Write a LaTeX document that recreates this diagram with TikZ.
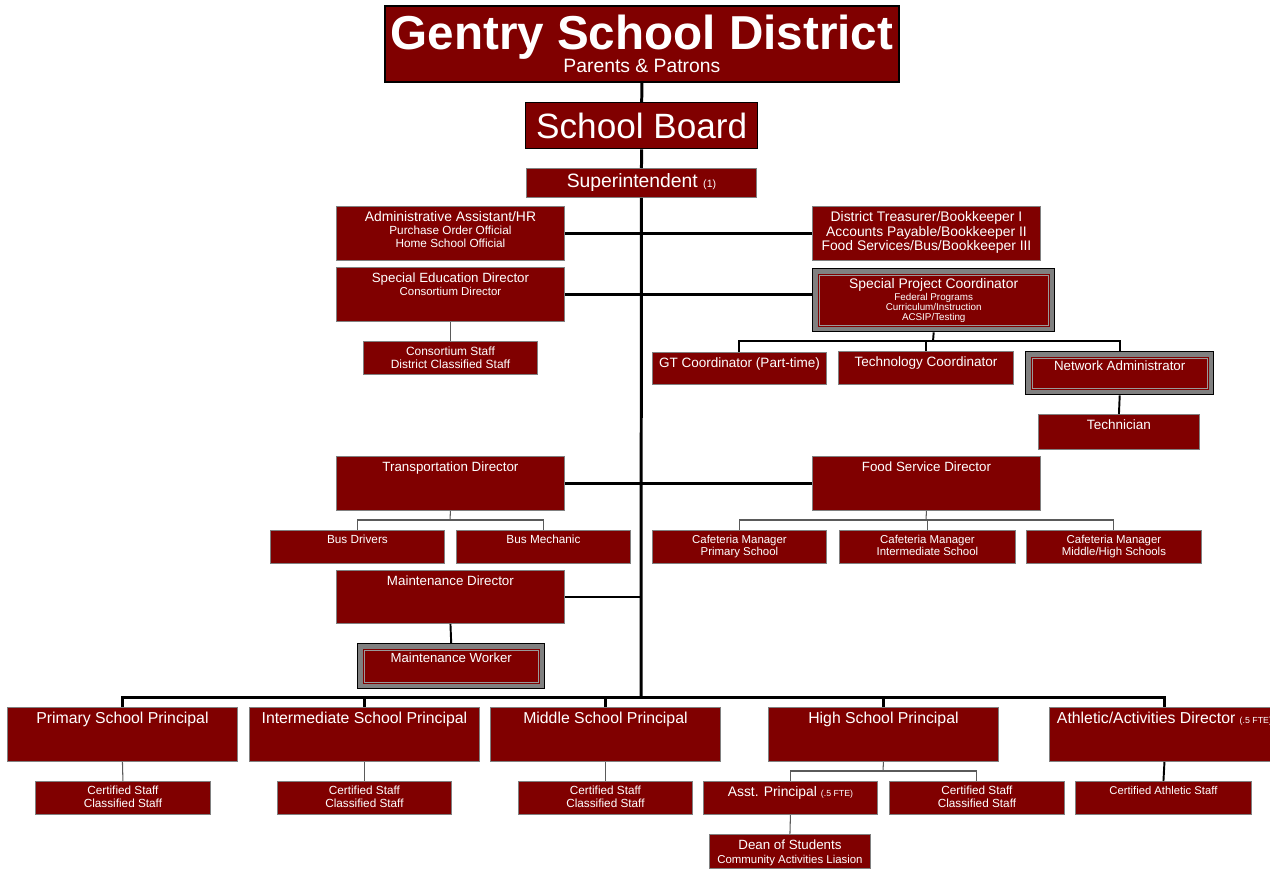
\documentclass[tikz,border=0pt]{standalone}
\usepackage{fontspec}
\setmainfont{Liberation Sans}
\usepackage{xcolor}
\usepackage{tikz}
\usetikzlibrary{positioning,calc}
\definecolor{granate}{HTML}{800000}
\definecolor{gris}{HTML}{808080}
\definecolor{linea}{HTML}{5A5A5A}
\newcommand{\fsz}[2]{\fontsize{#1}{#2}\selectfont}

\begin{document}
\begin{tikzpicture}[x=0.02cm, y=-0.02cm, font=\fsz{7.6}{8},
  box/.style={draw=gris, line width=0.5pt, fill=granate, anchor=north west, inner sep=0pt, text=white},
  dbl/.style={draw=black, line width=0.8pt, fill=gris,
    path picture={
      \fill[granate] ([shift={(2.8pt,2.8pt)}]path picture bounding box.south west)
        rectangle ([shift={(-2.8pt,-2.8pt)}]path picture bounding box.north east);
      \draw[gris!80, line width=0.4pt] ([shift={(3.6pt,3.6pt)}]path picture bounding box.south west)
        rectangle ([shift={(-3.6pt,-3.6pt)}]path picture bounding box.north east);}},
  lbl/.style={anchor=north, yshift=-2.9pt, inner sep=0pt, text=white, align=center},
  low/.style={yshift=-2.7pt},
  spine/.style={line width=1.7pt, black},
  link/.style={line width=1.4pt, black},
  sub/.style={line width=1.1pt, black},
  thin/.style={line width=0.6pt, linea}]
  \useasboundingbox (0,0) rectangle (1270,869);
  \newcommand{\bx}[8]{\node[box, #6, minimum width={(#4-#2)*0.02cm}, minimum height={(#5-#3)*0.02cm},
      label={[lbl, #7]north:{#8}}] (#1) at (#2,#3) {};}

  % top of the chart
  \node[box, draw=black, line width=1pt, minimum width={514*0.02cm}, minimum height={76*0.02cm}, align=center]
    (district) at (384,5) {\fsz{27.1}{28}\bfseries Gentry School District\\[-1pt]\fsz{11}{12}\mdseries Parents \& Patrons};
  \node[box, draw=black, line width=0.8pt, minimum width={232*0.02cm}, minimum height={46*0.02cm}]
    (board) at (525,102) {\fsz{20}{22}School Board};
  \node[box, minimum width={230*0.02cm}, minimum height={29*0.02cm}]
    (supt) at (526,168) {\fsz{11}{12}Superintendent {\fsz{6}{6}(1)}};

  % offices beside the spine
  \bx{admin}{336}{206}{564}{260}{}{font=\fsz{6.7}{7.4}}{\fsz{7.9}{8.6}Administrative Assistant/HR\\Purchase Order Official\\Home School Official}
  \bx{treas}{812}{206}{1040}{260}{}{font=\fsz{7.9}{8.3}}{District Treasurer/Bookkeeper I\\Accounts Payable/Bookkeeper II\\Food Services/Bus/Bookkeeper III}
  \bx{sped}{336}{267}{564}{321}{}{font=\fsz{6.5}{7.6}}{\fsz{7.6}{8.4}Special Education Director\\Consortium Director}
  \bx{spc}{812}{268}{1054}{331}{dbl}{low, font=\fsz{5.6}{5.8}}{\fsz{7.9}{8.5}Special Project Coordinator\\[1.2pt]Federal Programs\\Curriculum/Instruction\\ACSIP/Testing}
  \bx{cons}{363}{341}{537}{374}{}{font=\fsz{6.8}{7.4}}{Consortium Staff\\District Classified Staff}
  \bx{gt}{652}{352}{826}{384}{}{font=\fsz{7.7}{8}}{GT Coordinator (Part-time)}
  \bx{tech}{838}{351}{1013}{384}{}{font=\fsz{7.7}{8}}{Technology Coordinator}
  \bx{net}{1025}{351}{1213}{394}{dbl}{low, font=\fsz{7.6}{8}}{Network Administrator}
  \bx{techn}{1038}{414}{1199}{449}{}{font=\fsz{7.7}{8}}{Technician}
  \bx{td}{336}{456}{564}{510}{}{}{Transportation Director}
  \bx{fsd}{812}{456}{1040}{510}{}{}{Food Service Director}
  \bx{drv}{270}{530}{444}{563}{}{font=\fsz{6.7}{7}}{Bus Drivers}
  \bx{mech}{456}{530}{630}{563}{}{font=\fsz{6.7}{7}}{Bus Mechanic}
  \foreach \n/\l/\r/\t in {caf1/652/826/{Primary School}, caf2/839/1015/{Intermediate School},
                           caf3/1026/1201/{Middle/High Schools}}{
    \bx{\n}{\l}{530}{\r}{563}{}{font=\fsz{6.5}{6.9}}{Cafeteria Manager\\\t}
  }
  \bx{md}{336}{570}{564}{623}{}{}{Maintenance Director}
  \bx{mw}{357}{643}{544}{688}{dbl}{low, font=\fsz{7.5}{8}}{Maintenance Worker}

  % principals and their staff
  \foreach \n/\l/\r/\t in {p1/7/237/{Primary School Principal}, p2/249/479/{Intermediate School Principal},
                           p3/490/720/{Middle School Principal}, p4/768/998/{High School Principal},
                           p5/1049/1279/{Athletic/Activities Director {\fsz{5}{5}(.5 FTE)}}}{
    \bx{\n}{\l}{707}{\r}{761}{}{font=\fsz{9}{10}}{\t}
  }
  \foreach \n/\l/\r in {s1/35/210, s2/277/451, s3/518/692, s4/889/1064}{
    \bx{\n}{\l}{781}{\r}{814}{}{font=\fsz{6.7}{7.4}}{Certified Staff\\Classified Staff}
  }
  \bx{asst}{703}{781}{877}{814}{}{font=\fsz{7.9}{8}}{Asst. Principal {\fsz{5}{5}(.5 FTE)}}
  \bx{s5}{1075}{781}{1251}{814}{}{font=\fsz{6.4}{7}}{Certified Athletic Staff}
  \bx{dean}{709}{834}{870}{868}{}{font=\fsz{6.5}{7.9}}{\fsz{7.6}{8}Dean of Students\\Community Activities Liasion}

  % spine
  \coordinate (bus) at (641,697);
  \draw[spine] (district.south) -- (board.north);
  \draw[spine] (board.south) -- (supt.north);
  \draw[spine] (supt.south) -- (bus);
  \draw[link] (admin.east) -- (treas.west);
  \draw[link] (sped.east) -- (sped.east -| spc.west);
  \draw[link] (td.east) -- (fsd.west);
  \draw[link] (md.east) -- (md.east -| bus);

  % branches
  \coordinate (spcbar) at (933,341);
  \draw[sub] (spc.south) -- (spcbar);
  \draw[sub] (gt.north) |- (spcbar) -| (net.north);
  \draw[sub] (tech.north) -- (tech.north |- spcbar);
  \draw[sub] (net.south) -- (techn.north);
  \draw[thin] (sped.south) -- (cons.north);
  \coordinate (tdbar) at (450,520);
  \draw[thin] (td.south) -- (tdbar);
  \draw[thin] (drv.north) |- (tdbar) -| (mech.north);
  \coordinate (fsdbar) at (926,520);
  \draw[thin] (fsd.south) -- (fsdbar);
  \draw[thin] (caf1.north) |- (fsdbar) -| (caf3.north);
  \draw[thin] (caf2.north) -- (caf2.north |- fsdbar);
  \draw[sub] (md.south) -- (mw.north);

  % schools
  \draw[spine] (p1.north) |- (bus) -| (p5.north);
  \foreach \n in {p2,p3,p4} \draw[spine] (\n.north) -- (\n.north |- bus);
  \foreach \a/\b in {p1/s1, p2/s2, p3/s3} \draw[thin] (\a.south) -- (\b.north);
  \draw[sub] (p5.south) -- (s5.north);
  \coordinate (hsbar) at (883,771);
  \draw[thin] (p4.south) -- (hsbar);
  \draw[thin] (asst.north) |- (hsbar) -| (s4.north);
  \draw[thin] (asst.south) -- (dean.north);
\end{tikzpicture}
\end{document}
